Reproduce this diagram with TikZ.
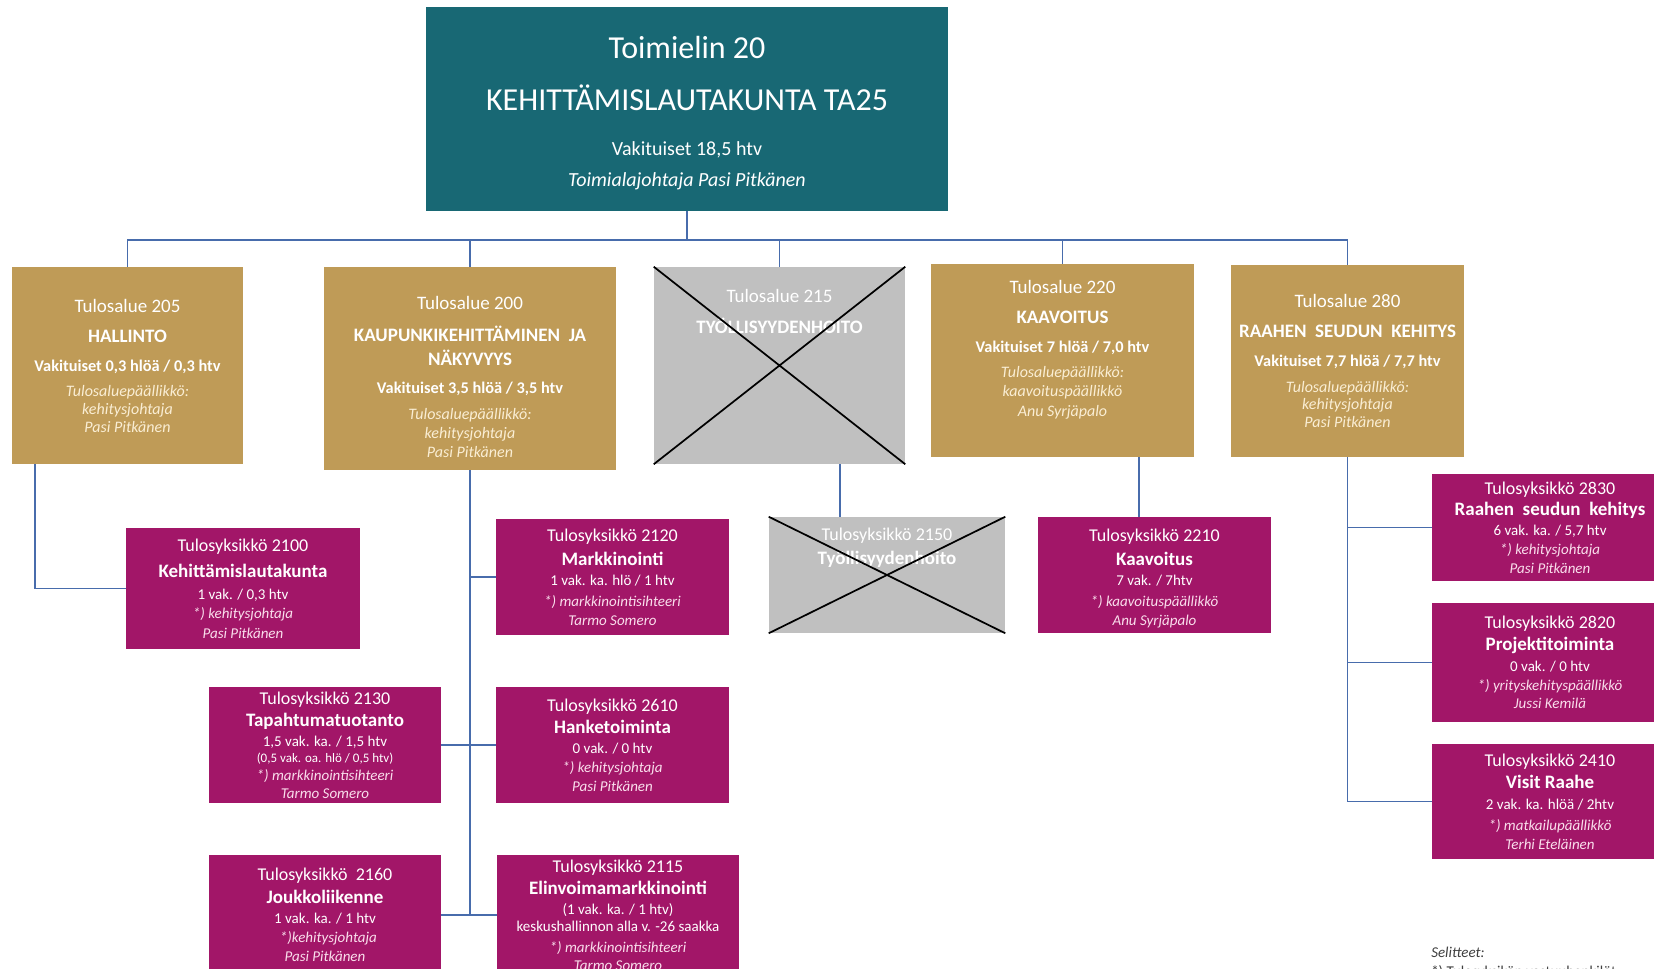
\documentclass[tikz,border=0pt]{standalone}
\usepackage{fontspec}
\setmainfont{Carlito}
\usepackage{tikz}
\usetikzlibrary{positioning}
\usetikzlibrary{calc}

\definecolor{boardteal}{RGB}{24,104,116}
\definecolor{areagold}{RGB}{191,155,87}
\definecolor{unitplum}{RGB}{162,22,104}
\definecolor{closedgrey}{RGB}{192,192,192}
\definecolor{linkblue}{RGB}{72,108,172}
\definecolor{goldtext}{RGB}{250,238,212}
\definecolor{plumtext}{RGB}{250,222,236}

% line fonts, rows are spaced only by \\[..]
\newcommand{\boxfont}{\fontsize{10}{0}\selectfont\lineskiplimit=-\maxdimen}
\newcommand{\fBig}{\fontsize{24}{0}\selectfont}
\newcommand{\fBoard}{\fontsize{15}{0}\selectfont}
\newcommand{\fHead}{\fontsize{14.25}{0}\selectfont}
\newcommand{\fName}{\fontsize{14.25}{0}\selectfont\bfseries}
\newcommand{\fVak}{\fontsize{12.25}{0}\selectfont\bfseries}
\newcommand{\fUhead}{\fontsize{13.5}{0}\selectfont}
\newcommand{\fUname}{\fontsize{14.25}{0}\selectfont\bfseries}
\newcommand{\fUdet}{\fontsize{11.25}{0}\selectfont}
\newcommand{\fUsmall}{\fontsize{9.75}{0}\selectfont}
\newcommand{\fLegend}{\fontsize{11.25}{0}\selectfont}
\newcommand{\gnote}[1]{{\fontsize{12}{0}\selectfont\itshape\color{goldtext}#1}}
\newcommand{\pnote}[1]{{\fontsize{11.25}{0}\selectfont\itshape\color{plumtext}#1}}

\begin{document}
\begin{tikzpicture}[x=0.75pt,y=-0.75pt]
\tikzset{box/.style={rectangle, align=center, inner sep=0pt, font=\boxfont}}
\tikzset{board/.style={box, fill=boardteal, text=white, minimum width=391.5pt, minimum height=153pt}}
\tikzset{area/.style={box, fill=areagold, text=white}}
\tikzset{unit/.style={box, fill=unitplum, text=white, minimum height=87pt}}
\tikzset{closed/.style={box, fill=closedgrey, text=white}}
\tikzset{link/.style={draw=linkblue, line width=1.4pt}}
\tikzset{cross/.style={draw=black, line width=1.3pt}}

\clip (0,0) rectangle (1654,969);
\fill[white] (0,0) rectangle (1654,969);

% toimielin
\node[board] (board) at (687,109) {{\fBig Toimielin 20}\\[39pt]{\fBig KEHITTÄMISLAUTAKUNTA TA25}\\[33.75pt]{\fBoard Vakituiset 18,5 htv}\\[23.25pt]{\fBoard\itshape Toimialajohtaja Pasi Pitkänen}\\[-4pt]{}};

% tulosalueet
\node[area, minimum width=173.25pt, minimum height=147.75pt] (ta205) at (127.5,365.5) {{\fHead Tulosalue 205}\\[22.5pt]{\fName HALLINTO}\\[21.75pt]{\fVak Vakituiset 0,3 hlöä / 0,3 htv}\\[18.75pt]\gnote{Tulosaluepäällikkö:}\\[13.5pt]\gnote{kehitysjohtaja}\\[13.5pt]\gnote{Pasi Pitkänen}};
\node[area, minimum width=219pt, minimum height=152.25pt] (ta200) at (470,368.5) {{\fHead Tulosalue 200}\\[24pt]{\fName KAUPUNKIKEHITTÄMINEN\ \ JA}\\[18pt]{\fName NÄKYVYYS}\\[21pt]{\fVak Vakituiset 3,5 hlöä / 3,5 htv}\\[19.5pt]\gnote{Tulosaluepäällikkö:}\\[14.25pt]\gnote{kehitysjohtaja}\\[14.25pt]\gnote{Pasi Pitkänen}\\[-12pt]{}};
\node[closed, minimum width=188.25pt, minimum height=147.75pt] (ta215) at (779.5,365.5) {{\fHead Tulosalue 215}\\[23.25pt]{\fName TYÖLLISYYDENHOITO}\\[81pt]{}};
\node[area, minimum width=197.25pt, minimum height=144.75pt] (ta220) at (1062.5,360.5) {{\fHead Tulosalue 220}\\[22.5pt]{\fName KAAVOITUS}\\[21.75pt]{\fVak Vakituiset 7 hlöä / 7,0 htv}\\[18.75pt]\gnote{Tulosaluepäällikkö:}\\[14.25pt]\gnote{kaavoituspäällikkö}\\[15pt]\gnote{Anu Syrjäpalo}\\[18pt]{}};
\node[area, minimum width=174.75pt, minimum height=144pt] (ta280) at (1347.5,361) {{\fHead Tulosalue 280}\\[22.5pt]{\fName RAAHEN\ \ SEUDUN\ \ KEHITYS}\\[21.75pt]{\fVak Vakituiset 7,7 hlöä / 7,7 htv}\\[19.5pt]\gnote{Tulosaluepäällikkö:}\\[12.75pt]\gnote{kehitysjohtaja}\\[13.5pt]\gnote{Pasi Pitkänen}};

% tulosyksiköt
\node[unit, minimum width=175.5pt, minimum height=90.75pt] (ty2100) at (243,588.5) {{\fUhead Tulosyksikkö 2100}\\[19.5pt]{\fUname Kehittämislautakunta}\\[16.5pt]{\fUdet 1 vak. / 0,3 htv}\\[14.25pt]\pnote{*) kehitysjohtaja}\\[15pt]\pnote{Pasi Pitkänen}};
\node[unit, minimum width=174.75pt] (ty2120) at (612.5,577) {{\fUhead Tulosyksikkö 2120}\\[18pt]{\fUname Markkinointi}\\[15pt]{\fUdet 1 vak. ka. hlö / 1 htv}\\[15.75pt]\pnote{*) markkinointisihteeri}\\[14.25pt]\pnote{Tarmo Somero}};
\node[closed, minimum width=177pt, minimum height=87pt] (ty2150) at (887,575) {{\fUhead Tulosyksikkö 2150}\\[18pt]{\fUname Työllisyydenhoito}\\[43.5pt]{}};
\node[unit, minimum width=174.75pt] (ty2210) at (1154.5,575) {{\fUhead Tulosyksikkö 2210}\\[18pt]{\fUname Kaavoitus}\\[15pt]{\fUdet 7 vak. / 7htv}\\[15.75pt]\pnote{*) kaavoituspäällikkö}\\[14.25pt]\pnote{Anu Syrjäpalo}\\[-4pt]{}};
\node[unit, minimum width=174pt] (ty2130) at (325,745) {{\fUhead Tulosyksikkö 2130}\\[16.5pt]{\fUname Tapahtumatuotanto}\\[15pt]{\fUdet 1,5 vak. ka. / 1,5 htv}\\[12pt]{\fUsmall (0,5 vak. oa. hlö / 0,5 htv)}\\[13.5pt]\pnote{*) markkinointisihteeri}\\[13.5pt]\pnote{Tarmo Somero}};
\node[unit, minimum width=174.75pt] (ty2610) at (612.5,745) {{\fUhead Tulosyksikkö 2610}\\[16.5pt]{\fUname Hanketoiminta}\\[15pt]{\fUdet 0 vak. / 0 htv}\\[14.25pt]\pnote{*) kehitysjohtaja}\\[14.25pt]\pnote{Pasi Pitkänen}};
\node[unit, minimum width=174pt, minimum height=90pt] (ty2160) at (325,915) {{\fUhead Tulosyksikkö\ \ 2160}\\[17.25pt]{\fUname Joukkoliikenne}\\[15pt]{\fUdet 1 vak. ka. / 1 htv}\\[14.25pt]\pnote{\ \ *)kehitysjohtaja}\\[14.25pt]\pnote{Pasi Pitkänen}};
\node[unit, minimum width=181.5pt, minimum height=90pt] (ty2115) at (618,915) {{\fUhead Tulosyksikkö 2115}\\[16.5pt]{\fUname Elinvoimamarkkinointi}\\[15pt]{\fUdet (1 vak. ka. / 1 htv)}\\[12.75pt]{\fUdet keskushallinnon alla v. -26 saakka}\\[15.75pt]\pnote{*) markkinointisihteeri}\\[13.5pt]\pnote{Tarmo Somero}};
\node[unit, minimum width=177pt, minimum height=80.25pt] (ty2830) at (1550,527.5) {{\fUhead Tulosyksikkö 2830}\\[15.75pt]{\fUname Raahen\ \ seudun\ \ kehitys}\\[15pt]{\fUdet 6 vak. ka. / 5,7 htv}\\[14.25pt]\pnote{*) kehitysjohtaja}\\[14.25pt]\pnote{Pasi Pitkänen}};
\node[unit, minimum width=177pt, minimum height=89.25pt] (ty2820) at (1550,662.5) {{\fUhead Tulosyksikkö 2820}\\[16.5pt]{\fUname Projektitoiminta}\\[15.75pt]{\fUdet 0 vak. / 0 htv}\\[14.25pt]\pnote{*) yrityskehityspäällikkö}\\[13.5pt]\pnote{Jussi Kemilä}};
\node[unit, minimum width=177pt, minimum height=86.25pt] (ty2410) at (1550,801.5) {{\fUhead Tulosyksikkö 2410}\\[16.5pt]{\fUname Visit Raahe}\\[15.75pt]{\fUdet 2 vak. ka. hlöä / 2htv}\\[15.75pt]\pnote{*) matkailupäällikkö}\\[14.25pt]\pnote{Terhi Eteläinen}};

\node[box, align=left, anchor=north west, text=black!75] (legend) at (1431,947) {{\fLegend\itshape Selitteet:}\\[14.25pt]{\fLegend *) Tulosyksikön vastuuhenkilöt}};

% yhteydet
\coordinate (bus) at (688,240);
\draw[link] (board.south) -- (board.south |- bus);
\draw[link] (ta205.north) |- (bus) -| (ta280.north);
\foreach \n in {ta200,ta215,ta220} \draw[link] (\n.north) -- (\n.north |- bus);

\draw[link] ($(ta205.south west)!0.1!(ta205.south east)$) |- (ty2100.west);
\draw[link] (ta200.south) -- (ta200.south |- ty2160.east);
\draw[link] (ta200.south) |- (ty2120.west);
\draw[link] (ty2130.east) -- (ty2610.west);
\draw[link] (ty2160.east) -- (ty2115.west);
\draw[link] ($(ta215.south west)!0.74!(ta215.south east)$) coordinate (k215) -- (k215 |- ty2150.north);
\draw[link] ($(ta220.south west)!0.79!(ta220.south east)$) coordinate (k220) -- (k220 |- ty2210.north);
\draw[link] (ta280.south) -- (ta280.south |- ty2410.west);
\foreach \n in {ty2830,ty2820,ty2410} \draw[link] (ta280.south |- \n.west) -- (\n.west);

% lakkautetut
\draw[cross] (ta215.north west) -- (ta215.south east) (ta215.north east) -- (ta215.south west);
\draw[cross] (ty2150.north west) -- (ty2150.south east) (ty2150.north east) -- (ty2150.south west);
\end{tikzpicture}
\end{document}
